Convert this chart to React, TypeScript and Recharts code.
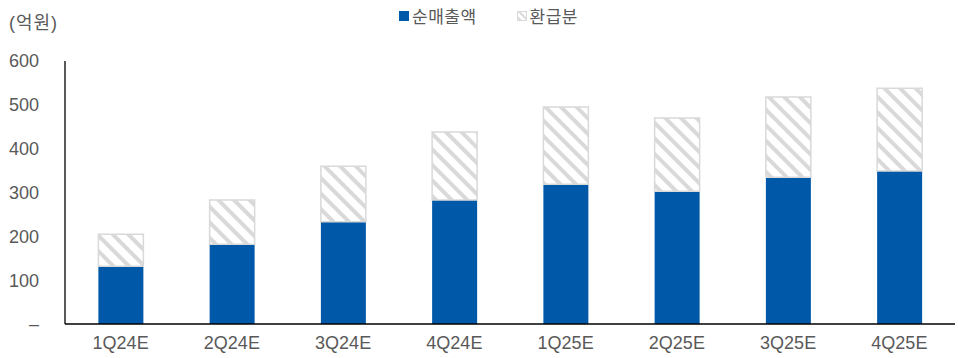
import { Bar, BarChart, XAxis, YAxis } from "recharts"

const quarters = ["1Q24E", "2Q24E", "3Q24E", "4Q24E", "1Q25E", "2Q25E", "3Q25E", "4Q25E"]
const netSales = [132, 182, 233, 283, 319, 303, 335, 349]
const refunds = [73, 101, 127, 155, 176, 167, 183, 189]
const yTicks = [0, 100, 200, 300, 400, 500, 600]

const BLUE = "#0058A8"
const GRAY = "#D9D9D9"
const TEXT = "#595959"
const FONT = "'Liberation Sans', 'Noto Sans CJK KR', sans-serif"

const data = quarters.map((q, i) => ({
  quarter: q,
  net: netSales[i],
  refund: refunds[i],
}))

function ChartLegend() {
  return (
    <div
      style={{
        position: "absolute",
        left: 399,
        top: 3,
        display: "flex",
        alignItems: "center",
        fontFamily: FONT,
        fontSize: 17,
        letterSpacing: 0.5,
        color: TEXT,
        whiteSpace: "nowrap",
      }}
    >
      <svg width={10} height={10} style={{ marginRight: 3 }}>
        <rect width={10} height={10} fill={BLUE} />
      </svg>
      <span style={{ marginRight: 40 }}>순매출액</span>
      <svg width={10} height={10} style={{ marginRight: 3 }}>
        <defs>
          <pattern id="hatchLegend" width={5} height={5} patternUnits="userSpaceOnUse" patternTransform="rotate(-45)">
            <rect width={5} height={5} fill="#fff" />
            <rect width={2} height={5} fill={GRAY} />
          </pattern>
        </defs>
        <rect x={0.5} y={0.5} width={9} height={9} fill="url(#hatchLegend)" stroke={GRAY} />
      </svg>
      <span>환급분</span>
    </div>
  )
}

export default function App() {
  return (
    <div style={{ position: "fixed", left: 0, top: 0, width: 958, height: 358, background: "#fff" }}>
      <div
        style={{
          position: "absolute",
          left: 9,
          top: 8,
          fontFamily: FONT,
          fontSize: 18,
          letterSpacing: 1,
          color: TEXT,
        }}
      >
        (억원)
      </div>
      <ChartLegend />
      <BarChart
        width={958}
        height={358}
        data={data}
        margin={{ top: 61, right: 3, bottom: 4, left: 0 }}
        barCategoryGap="30%"
      >
        <defs>
          <pattern id="hatch" width={11} height={11} patternUnits="userSpaceOnUse" patternTransform="rotate(-45)">
            <rect width={11} height={11} fill="#fff" />
            <rect width={4} height={11} fill={GRAY} />
          </pattern>
        </defs>
        <XAxis
          dataKey="quarter"
          tickLine={false}
          axisLine={{ stroke: "#000", strokeWidth: 1.3 }}
          tick={{ fill: TEXT, fontSize: 18, fontFamily: FONT }}
          tickMargin={6}
        />
        <YAxis
          width={65}
          domain={[0, 600]}
          ticks={yTicks}
          tickLine={false}
          axisLine={{ stroke: "#000", strokeWidth: 1.3 }}
          tick={{ fill: TEXT, fontSize: 18, fontFamily: FONT }}
          tickMargin={20}
          tickFormatter={(v: number) => (v === 0 ? "–" : String(v))}
        />
        <Bar dataKey="net" stackId="a" fill={BLUE} isAnimationActive={false} />
        <Bar
          dataKey="refund"
          stackId="a"
          fill="url(#hatch)"
          stroke={GRAY}
          strokeWidth={1.5}
          isAnimationActive={false}
        />
      </BarChart>
    </div>
  )
}
